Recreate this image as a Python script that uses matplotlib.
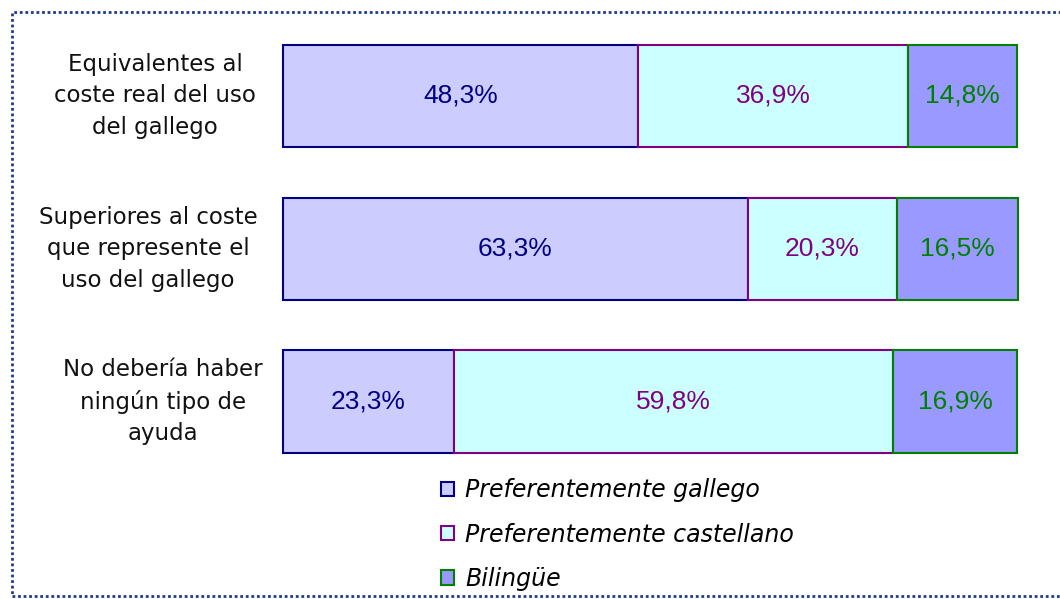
import matplotlib.pyplot as plt
from matplotlib.patches import Rectangle, Patch
from matplotlib.transforms import blended_transform_factory
import numpy as np

categories = ["Equivalentes al\ncoste real del uso\ndel gallego",
              "Superiores al coste\nque represente el\nuso del gallego",
              "No debería haber\nningún tipo de\nayuda"]
series = ["Preferentemente gallego", "Preferentemente castellano", "Bilingüe"]
gallego = [48.3, 63.3, 23.3]
castellano = [36.9, 20.3, 59.8]
bilingue = [14.8, 16.5, 16.9]

fills = ["#CCCCFF", "#CCFFFF", "#9999FF"]
edges = ["#000080", "#800080", "#008000"]

W, H = 1060, 599
fig = plt.figure(figsize=(W/100, H/100), dpi=100)
ax = fig.add_axes([283/W, 1 - 478/H, (1017-283)/W, (478-19.5)/H])

ys = np.arange(len(categories))
left = np.zeros(len(categories))
for vals, fc, ec in zip([gallego, castellano, bilingue], fills, edges):
    vals = np.array(vals)
    bars = ax.barh(ys, vals, left=left, height=0.67, color=fc, edgecolor=ec, linewidth=1.5)
    for b in bars:
        b.set_clip_on(False)
    for y, l, v in zip(ys, left, vals):
        ax.text(l + v/2, y, ("%.1f%%" % v).replace(".", ","), ha="center", va="center",
                color=ec, fontsize=19, family="Liberation Sans")
    left = left + vals

ax.set_xlim(0, 100)
ax.set_ylim(len(categories) - 0.5, -0.5)
ax.axis("off")

# category labels, centred to the left of the bars
label_cx = [155, 148, 163]
tr = blended_transform_factory(fig.transFigure, ax.transData)
for y, lab, cx in zip(ys, categories, label_cx):
    ax.text(cx/W, y, lab, transform=tr, ha="center", va="center",
            multialignment="center", fontsize=16.5, linespacing=1.47, color="#111111")

handles = [Patch(facecolor=fc, edgecolor=ec, linewidth=1.5) for fc, ec in zip(fills, edges)]
leg = fig.legend(handles, series, loc="upper left", bbox_to_anchor=(420/W, 1 - 457/H),
                 frameon=False, handlelength=0.55, handleheight=0.55, handletextpad=0.45,
                 labelspacing=0.86, prop={"style": "italic", "size": 17})

fig.patches.append(Rectangle((12/W, 3/H), 1.2, 1 - 15/H, transform=fig.transFigure,
                             fill=False, edgecolor="#1F3B8F", linewidth=2,
                             linestyle=(0, (1, 1))))

fig.savefig("out.png", dpi=100)
